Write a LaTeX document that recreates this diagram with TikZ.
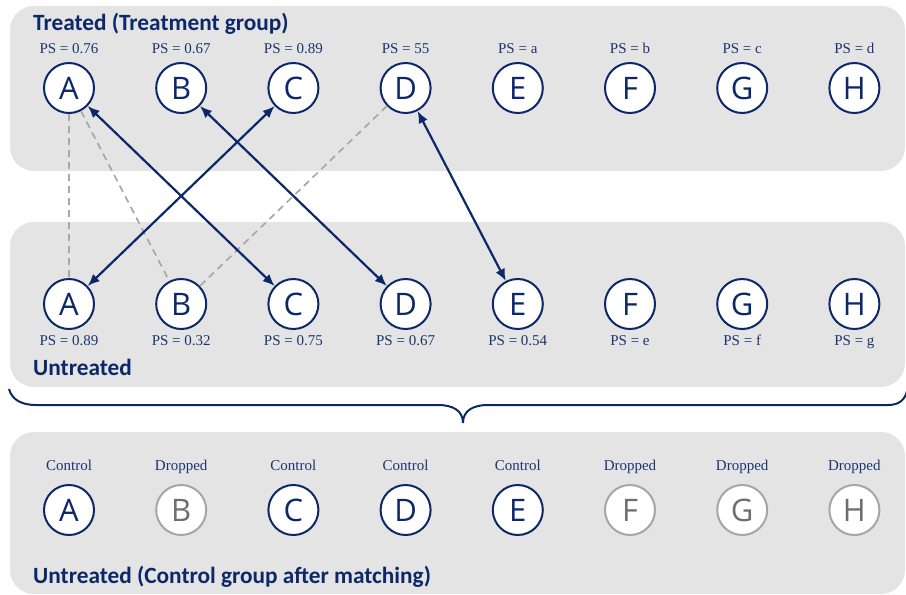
\documentclass[tikz,border=0pt]{standalone}
\usepackage{fontspec}
\setmainfont{Liberation Serif}
\newfontfamily\circfont{Open Sans}
\newfontfamily\titlefont{Carlito}
\usetikzlibrary{arrows.meta}
\definecolor{navy}{HTML}{0C2869}
\definecolor{labnavy}{HTML}{1B3570}
\definecolor{panel}{HTML}{E4E4E4}
\definecolor{dash}{HTML}{A8A8A8}
\definecolor{dropline}{HTML}{A6A6A6}
\definecolor{droptext}{HTML}{6E6E6E}
\tikzset{
  panelbox/.style={fill=panel, draw=none, rounded corners=24pt},
  unit/.style={circle, minimum size=50pt, inner sep=0pt, draw=navy, line width=2pt,
    fill=white, text=navy, font=\circfont\fontsize{31}{31}\selectfont},
  dropunit/.style={unit, draw=dropline, text=droptext},
  pslabel/.style={text=labnavy, font=\fontsize{15}{15}\selectfont, inner sep=0pt,
    text height=10.5pt, text depth=3.5pt},
  grouptitle/.style={text=navy, font=\titlefont\bfseries\fontsize{23.3}{23.3}\selectfont,
    anchor=west, inner sep=0pt},
  matchlink/.style={draw=navy, line width=2.2pt, {Latex[length=12pt,width=10pt]}-{Latex[length=12pt,width=10pt]}},
  candlink/.style={draw=dash, line width=1.7pt, dash pattern=on 7pt off 5pt},
  bracepath/.style={draw=navy, line width=2pt}
}
\begin{document}
\begin{tikzpicture}[x=1pt,y=-1pt]
\useasboundingbox (0,0) rectangle (906,595);

% group panels
\fill[panelbox] (10,6) rectangle (905,171);
\fill[panelbox] (10,222) rectangle (905,387);
\fill[panelbox] (10,432) rectangle (905,594);

% titles
\node[grouptitle] (ttop) at (33,24) {Treated (Treatment group)};
\node[grouptitle] (tmid) at (33,367) {Untreated};
\node[grouptitle] (tbot) at (33,577) {Untreated (Control group after matching)};

% treated units
\foreach \n/\ps [count=\i from 0] in {A/0.76,B/0.67,C/0.89,D/55,E/a,F/b,G/c,H/d}{
  \node[unit] (t\n) at (69+112.2*\i,88) {\n};
  \node[pslabel] (pt\n) at (69+112.2*\i,50) {PS = \ps};
}
% untreated units
\foreach \n/\ps [count=\i from 0] in {A/0.89,B/0.32,C/0.75,D/0.67,E/0.54,F/e,G/f,H/g}{
  \node[unit] (u\n) at (69+112.2*\i,304) {\n};
  \node[pslabel] (pu\n) at (69+112.2*\i,342) {PS = \ps};
}

% candidate pairs considered
\draw[candlink] (tA) -- (uA);
\draw[candlink] (tA) -- (uB);
\draw[candlink] (tD) -- (uB);

% matched pairs
\draw[matchlink] (tA) -- (uC);
\draw[matchlink] (tC) -- (uA);
\draw[matchlink] (tB) -- (uD);
\draw[matchlink] (tD) -- (uE);

% brace over the untreated group
\coordinate (bl) at (9,389);
\coordinate (btip) at (463,423);
\coordinate (br) at (907,391);
\draw[bracepath] (bl) .. controls (12,400) and (22,405) .. (36,405)
  -- (438,405) .. controls (452,405) and (463,410) .. (btip);
\draw[bracepath] (btip) .. controls (463,410) and (474,405) .. (488,405)
  -- (888,405) .. controls (900,405) and (905,399) .. (br);

% control group after matching
\foreach \n/\st [count=\i from 0] in {A/Control,B/Dropped,C/Control,D/Control,E/Control,F/Dropped,G/Dropped,H/Dropped}{
  \node[pslabel] (c\n) at (69+112.2*\i,467) {\st};
}
\node[unit] (mA) at (69,510) {A};
\node[dropunit] (mB) at (181.2,510) {B};
\node[unit] (mC) at (293.4,510) {C};
\node[unit] (mD) at (405.6,510) {D};
\node[unit] (mE) at (517.8,510) {E};
\node[dropunit] (mF) at (630,510) {F};
\node[dropunit] (mG) at (742.2,510) {G};
\node[dropunit] (mH) at (854.4,510) {H};
\end{tikzpicture}
\end{document}
